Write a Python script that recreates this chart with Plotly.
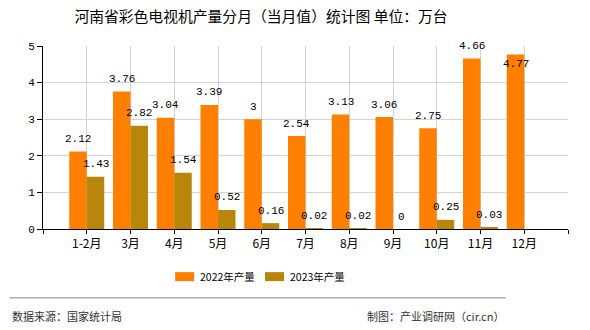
import plotly.graph_objects as go

categories = ["1-2月", "3月", "4月", "5月", "6月", "7月", "8月", "9月", "10月", "11月", "12月"]
values_2022 = [2.12, 3.76, 3.04, 3.39, 3.00, 2.54, 3.13, 3.06, 2.75, 4.66, 4.77]
values_2023 = [1.43, 2.82, 1.54, 0.52, 0.16, 0.02, 0.02, 0.00, 0.25, 0.03, None]
series_names = ["2022年产量", "2023年产量"]
y_ticks = [0, 1, 2, 3, 4, 5]

color_2022 = "#FF8000"
color_2023 = "#B8860B"

W, H = 590, 330
ml, mr, mt, mb = 42.7, 21.7, 46, 100.7
plot_h = H - mt - mb
pw = W - ml - mr
y_max = 5


def px_x(p):
    return (p - ml) / pw


def px_y(p):
    return (H - mb - p) / plot_h


xpos = list(range(1, len(categories) + 1))

fig = go.Figure()
fig.add_trace(go.Bar(x=xpos, y=values_2022, name=series_names[0],
                     marker=dict(color=color_2022, line=dict(width=0))))
fig.add_trace(go.Bar(x=xpos, y=values_2023, name=series_names[1],
                     marker=dict(color=color_2023, line=dict(width=0))))

label_font = dict(family="Liberation Mono, DejaVu Sans Mono, monospace", size=11, color="#000")
px_per_unit = plot_h / y_max
for vals, off in ((values_2022, -0.2), (values_2023, 0.2)):
    for x, v in zip(xpos, vals):
        if v is None:
            continue
        shift = 12.5
        # keep label centre inside plot area
        if v * px_per_unit + shift > plot_h + 1:
            shift = -9.5
        fig.add_annotation(x=x + off, y=v, text=f"{v:g}", showarrow=False,
                           xanchor="center", yanchor="middle", yshift=shift,
                           font=label_font)

tickvals = list(range(0, len(categories) + 2))
ticktext = [""] + categories + [""]

fig.update_layout(
    width=W, height=H,
    margin=dict(l=ml, r=mr, t=mt, b=mb),
    paper_bgcolor="white", plot_bgcolor="white",
    barmode="group", bargap=0.2, bargroupgap=0,
    title=dict(text="河南省彩色电视机产量分月（当月值）统计图 单位：万台",
               x=261 / W, xanchor="center", y=1 - 17 / H, yanchor="middle",
               font=dict(family="Noto Sans CJK SC", size=14.8, color="#000")),
    xaxis=dict(range=[0, len(categories) + 1], tickvals=tickvals, ticktext=ticktext,
               showgrid=True, gridcolor="#d3d3d3", gridwidth=1,
               showline=True, linecolor="#000", linewidth=1,
               ticks="outside", ticklen=4, tickcolor="#000",
               tickfont=dict(family="Noto Sans CJK SC", size=12, color="#000"),
               zeroline=False, fixedrange=True),
    yaxis=dict(range=[0, y_max], tickvals=y_ticks,
               showgrid=True, gridcolor="#d3d3d3", gridwidth=1,
               showline=True, linecolor="#000", linewidth=1,
               ticks="outside", ticklen=5, tickcolor="#000",
               tickfont=dict(family="Liberation Mono, DejaVu Sans Mono, monospace", size=11, color="#000"),
               zeroline=False, fixedrange=True),
    showlegend=False,
)

# manual legend (wide rectangles like the reference)
legend_items = [(series_names[0], color_2022, 175), (series_names[1], color_2023, 265)]
for name, col, x0 in legend_items:
    fig.add_shape(type="rect", xref="paper", yref="paper",
                  x0=px_x(x0), x1=px_x(x0 + 19), y0=px_y(281.5), y1=px_y(272.5),
                  fillcolor=col, line=dict(width=0))
    fig.add_annotation(xref="paper", yref="paper", x=px_x(x0 + 23), y=px_y(277),
                       xanchor="left", yanchor="middle", showarrow=False, text=name,
                       font=dict(family="Noto Sans CJK SC", size=10.5, color="#000"))

# separator line
fig.add_shape(type="line", xref="paper", yref="paper",
              x0=px_x(9), x1=px_x(506), y0=px_y(298.3), y1=px_y(298.3),
              line=dict(color="#888888", width=1))
fig.add_annotation(xref="paper", yref="paper", x=px_x(10), y=px_y(316.7),
                   xanchor="left", yanchor="middle", showarrow=False,
                   text="数据来源：国家统计局",
                   font=dict(family="Noto Sans CJK SC", size=11, color="#333"))
fig.add_annotation(xref="paper", yref="paper", x=px_x(506), y=px_y(316.7),
                   xanchor="right", yanchor="middle", showarrow=False,
                   text="制图：产业调研网（cir.cn）",
                   font=dict(family="Noto Sans CJK SC", size=11, color="#333"))

fig.write_html("out.html", config={"displayModeBar": False})
